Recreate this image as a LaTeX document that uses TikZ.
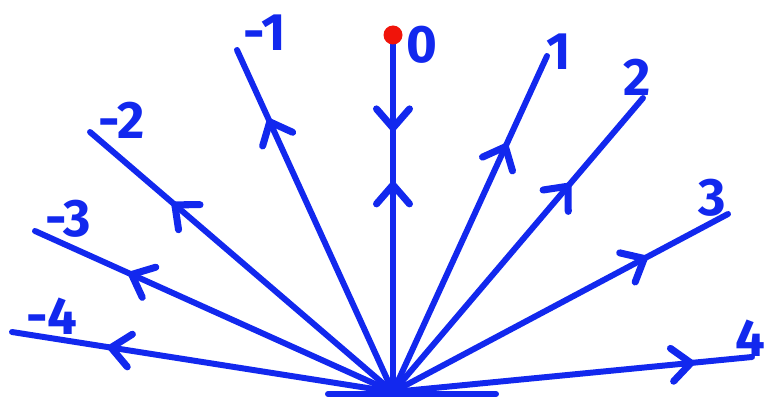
\documentclass[tikz,border=0pt]{standalone}
\usepackage{fontspec}
\setmainfont{Fira Sans}
\usepackage{xcolor}
\definecolor{pen}{RGB}{18,40,238}
\definecolor{dot}{RGB}{240,20,10}
\usetikzlibrary{decorations.markings}

\begin{document}
\begin{tikzpicture}[
        chevron/.style={pen, line width=4pt, line cap=round, line join=round},
        ray/.style={pen, line width=3.4pt, line cap=round, postaction={decorate},
            decoration={markings, mark=at position #1 with {\draw[chevron] (-0.38,0.33) -- (0,0) -- (-0.38,-0.33);}}},
        plain/.style={pen, line width=3.4pt, line cap=round},
        lbl/.style={pen, font=\fontsize{30}{30}\selectfont\bfseries, inner sep=0pt}
    ]
        \useasboundingbox (0,0) rectangle (15.32,8.02);

        \coordinate (o) at (7.86, 0.18);
        \coordinate (bl) at (6.56, 0.14);
        \coordinate (br) at (9.92, 0.14);
        \coordinate (em4) at (0.24, 1.38);
        \coordinate (em3) at (0.70, 3.40);
        \coordinate (em2) at (1.80, 5.38);
        \coordinate (em1) at (4.74, 7.02);
        \coordinate (e0) at (7.86, 7.26);
        \coordinate (e1) at (10.94, 6.90);
        \coordinate (e2) at (12.86, 6.06);
        \coordinate (e3) at (14.56, 3.74);
        \coordinate (e4) at (15.04, 0.88);

        \node[lbl] (lm4) at (1.04, 1.70) {-4};
        \node[lbl] (lm3) at (1.36, 3.64) {-3};
        \node[lbl] (lm2) at (2.44, 5.62) {-2};
        \node[lbl] (lm1) at (5.30, 7.36) {-1};
        \node[lbl] (l0) at (8.44, 7.12) {0};
        \node[lbl] (l1) at (11.18, 6.98) {1};
        \node[lbl] (l2) at (12.74, 6.48) {2};
        \node[lbl] (l3) at (14.24, 4.06) {3};
        \node[lbl] (l4) at (15.00, 1.26) {4};

        \draw[plain] (bl) -- (br);
        \draw[ray=0.74] (o) -- (em4);
        \draw[ray=0.73] (o) -- (em3);
        \draw[ray=0.72] (o) -- (em2);
        \draw[ray=0.79] (o) -- (em1);
        \draw[ray=0.585] (o) -- (e0);
        \draw[ray=0.254] (e0) -- (o);
        \draw[ray=0.73] (o) -- (e1);
        \draw[ray=0.70] (o) -- (e2);
        \draw[ray=0.75] (o) -- (e3);
        \draw[ray=0.83] (o) -- (e4);

        \fill[dot] (7.86, 7.32) circle (0.19);
    \end{tikzpicture}
\end{document}
